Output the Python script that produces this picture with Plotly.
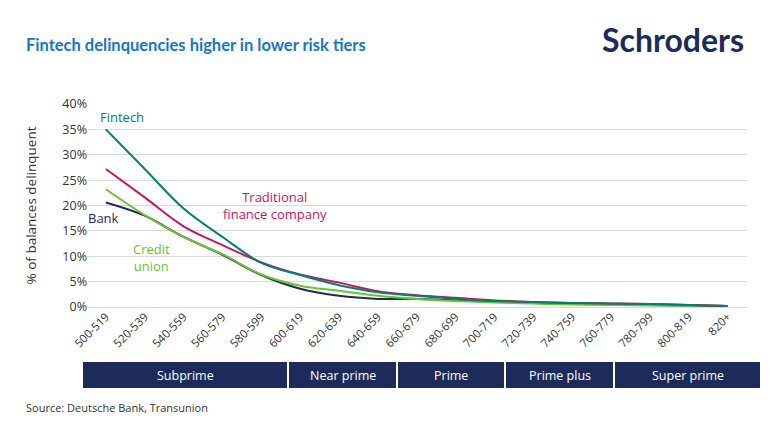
import plotly.graph_objects as go

categories = ["500-519", "520-539", "540-559", "560-579", "580-599", "600-619",
              "620-639", "640-659", "660-679", "680-699", "700-719", "720-739",
              "740-759", "760-779", "780-799", "800-819", "820+"]

fintech = [35.0, 27.2, 19.4, 13.8, 8.7, 6.3, 4.3, 2.9, 2.2, 1.6, 1.2, 1.0, 0.8, 0.7, 0.6, 0.4, 0.2]
traditional = [27.2, 21.6, 15.9, 12.2, 8.8, 6.4, 4.8, 3.1, 2.3, 1.8, 1.3, 1.0, 0.8, 0.7, 0.6, 0.4, 0.2]
bank = [20.6, 18.0, 13.8, 10.3, 6.3, 3.6, 2.2, 1.6, 1.6, 1.3, 1.0, 0.8, 0.6, 0.5, 0.4, 0.3, 0.2]
credit_union = [23.2, 18.1, 13.8, 10.4, 6.4, 4.2, 3.2, 2.2, 1.6, 1.2, 0.9, 0.7, 0.5, 0.4, 0.3, 0.3, 0.2]

y_ticks = [0, 5, 10, 15, 20, 25, 30, 35, 40]

tiers = ["Subprime", "Near prime", "Prime", "Prime plus", "Super prime"]

OFF = 8  # page body margin
W, H = 770 - OFF, 442 - OFF
L, R, T, B = 88 - OFF, 747 - OFF, 104 - OFF, 307 - OFF  # plot area in pixels

def px(xp):
    return (xp - OFF - L) / (R - L)

def py(yp):
    return (B - (yp - OFF)) / (B - T)

C_FIN = "#00806e"
C_TRAD = "#c8175d"
C_BANK = "#1f2a5e"
C_CU = "#6cc230"
NAVY = "#1c2b5a"

fig = go.Figure()
for name, vals, col in [("Bank", bank, C_BANK), ("Credit union", credit_union, C_CU),
                        ("Traditional finance company", traditional, C_TRAD),
                        ("Fintech", fintech, C_FIN)]:
    fig.add_trace(go.Scatter(x=categories, y=vals, mode="lines", name=name,
                             line=dict(color=col, width=2, shape="spline", smoothing=1.0),
                             showlegend=False, hoverinfo="skip"))

font = "Open Sans"
fig.update_layout(
    width=W, height=H,
    margin=dict(l=L, r=W - R, t=T, b=H - B),
    paper_bgcolor="white", plot_bgcolor="white",
    font=dict(family=font, size=11, color="#333333"),
    xaxis=dict(type="category", range=[-0.46, 16.5], tickangle=-45,
               showgrid=False, showline=False, ticks="", tickfont=dict(size=11.5, color="#333333"),
               fixedrange=True),
    yaxis=dict(range=[0, 40], tickvals=y_ticks, ticktext=[f"{v}%" for v in y_ticks],
               showgrid=True, gridcolor="#dadada", gridwidth=1, zeroline=True,
               zerolinecolor="#dadada", zerolinewidth=1, showline=False, ticks="",
               tickfont=dict(size=12.5, color="#333333"),
               title=dict(text="% of balances delinquent", font=dict(size=13.5, color="#333333"),
                          standoff=22)),
)

ann = []
# Title
ann.append(dict(text="<b>Fintech delinquencies higher in lower risk tiers</b>", xref="paper", yref="paper",
                x=px(24), y=py(45), xanchor="left", yanchor="middle", showarrow=False,
                font=dict(family="Lato", size=16.5, color="#1677c1")))
# Logo
ann.append(dict(text="<b>Schroders</b>", xref="paper", yref="paper",
                x=px(746), y=py(40), xanchor="right", yanchor="middle", showarrow=False,
                font=dict(family="Lato", size=32, color=NAVY)))
# Source
ann.append(dict(text="Source: Deutsche Bank, Transunion", xref="paper", yref="paper",
                x=px(24), y=py(407), xanchor="left", yanchor="middle", showarrow=False,
                font=dict(family=font, size=11, color="#333333")))
# Series labels
ann.append(dict(text="Fintech", x=0.41, y=37.4, xref="x", yref="y", showarrow=False,
                font=dict(size=13, color=C_FIN)))
ann.append(dict(text="Traditional<br>finance company", x=4.34, y=20.0, xref="x", yref="y",
                showarrow=False, font=dict(size=13, color=C_TRAD)))
ann.append(dict(text="Bank", x=-0.05, y=17.5, xref="x", yref="y", showarrow=False,
                font=dict(size=13, color=C_BANK)))
ann.append(dict(text="Credit<br>union", x=1.18, y=9.85, xref="x", yref="y", showarrow=False,
                font=dict(size=13, color=C_CU)))

# Tier boxes
box_edges = [(83, 287), (289, 396), (398, 504), (506, 613), (615, 760)]
shapes = []
for name, (x0, x1) in zip(tiers, box_edges):
    shapes.append(dict(type="rect", xref="paper", yref="paper",
                       x0=px(x0), x1=px(x1), y0=py(388), y1=py(362),
                       fillcolor=NAVY, line=dict(width=0), layer="above"))
    ann.append(dict(text=name, xref="paper", yref="paper", x=px((x0 + x1) / 2), y=py(375),
                    xanchor="center", yanchor="middle", showarrow=False,
                    font=dict(family=font, size=12.5, color="white")))

fig.update_layout(annotations=ann, shapes=shapes)
fig.write_html("out.html")
